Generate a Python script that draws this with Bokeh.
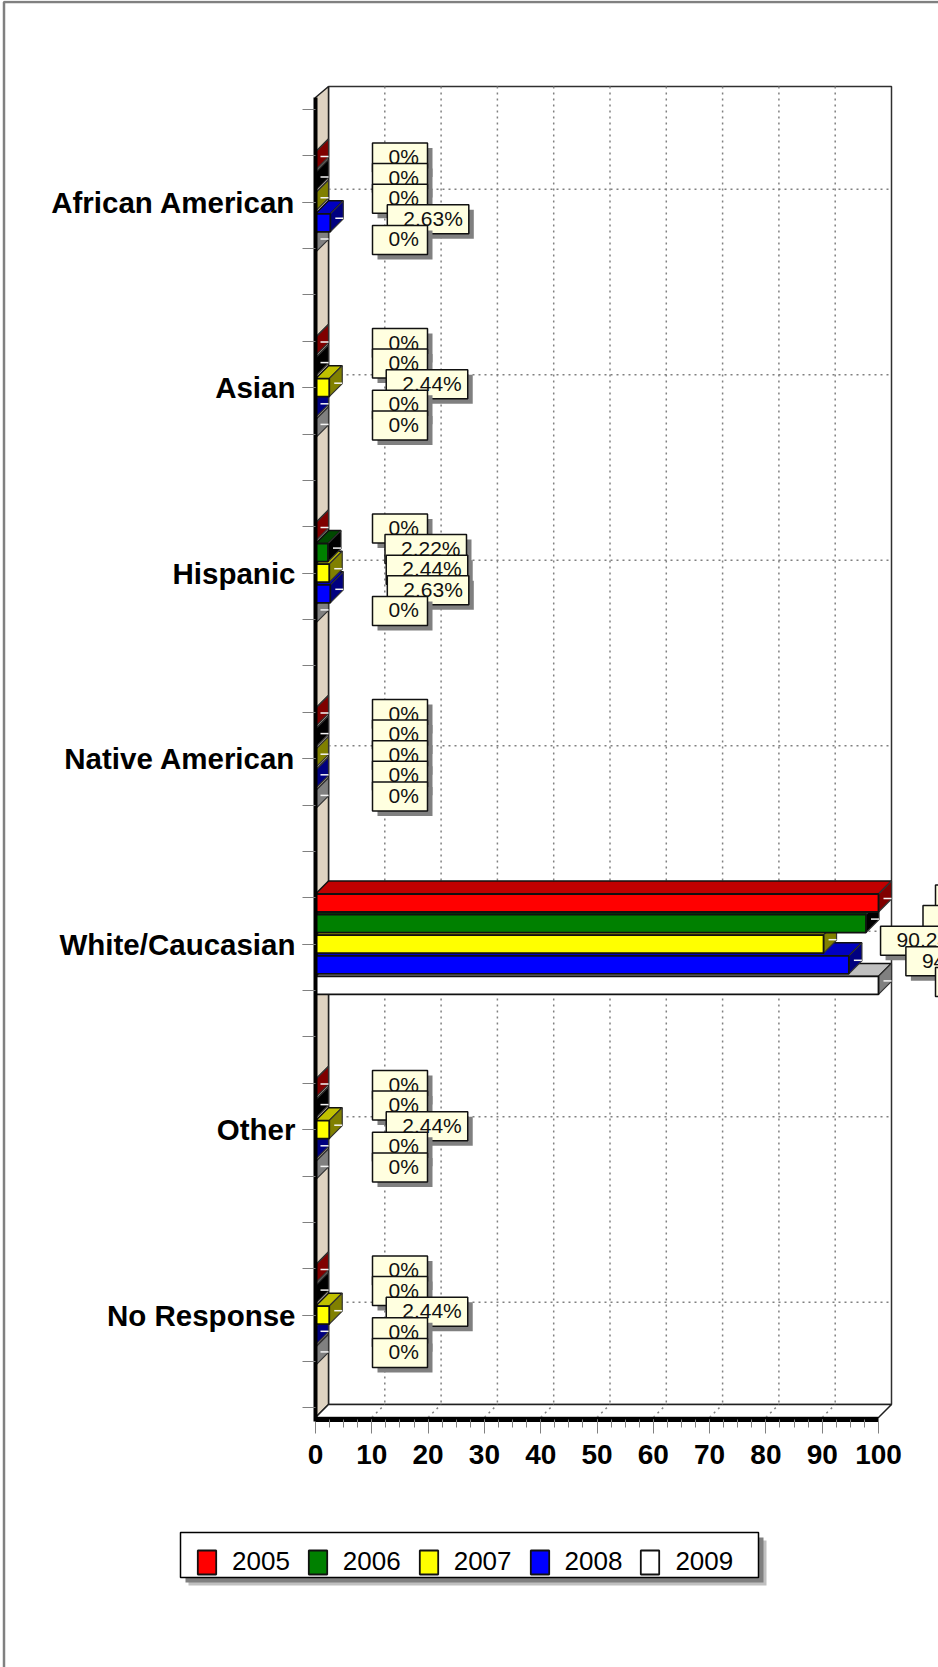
from bokeh.plotting import figure
from bokeh.models import Range1d, LinearAxis, FixedTicker, Legend, LegendItem
from bokeh.core.properties import value
from bokeh.embed import file_html
from bokeh.resources import INLINE

categories = ["African American", "Asian", "Hispanic", "Native American",
              "White/Caucasian", "Other", "No Response"]
years = ["2005", "2006", "2007", "2008", "2009"]
v2005 = [0, 0, 0, 0, 100, 0, 0]
v2006 = [0, 0, 2.22, 0, 97.78, 0, 0]
v2007 = [0, 2.44, 2.44, 0, 90.24, 2.44, 2.44]
v2008 = [2.63, 0, 2.63, 0, 94.74, 0, 0]
v2009 = [0, 0, 0, 0, 100, 0, 0]
series = [v2005, v2006, v2007, v2008, v2009]
front_cols = ["#FF0000", "#008000", "#FFFF00", "#0000FF", "#FFFFFF"]
top_cols = ["#C00000", "#004800", "#C0C000", "#0000C0", "#C0C0C0"]
side_cols = ["#800000", "#000000", "#808000", "#000080", "#808080"]

W, H = 938, 1667
X0, SX = 315.0, 5.63      # px of value 0, px per unit
Y0, SY = 201.7, 185.5     # px of first category, px per category
DEPTH = 13.0
BAR_STEP, BAR_H = 20.6, 18.0
FONT = "Liberation Sans"


def fx(px):
    return (px - X0) / SX


def fy(px):
    return (px - Y0) / SY


dxu, dyu = DEPTH / SX, DEPTH / SY

p = figure(width=W, height=H, output_backend="svg", toolbar_location=None,
           x_range=Range1d(fx(0), fx(W)), y_range=Range1d(fy(H), fy(0)),
           x_axis_type=None, y_axis_type=None, min_border=0,
           min_border_left=0, min_border_right=0, min_border_top=0, min_border_bottom=0,
           outline_line_color=None, background_fill_color="white",
           border_fill_color="white")
p.grid.visible = False

# chart frame
p.quad(left=[fx(3.5)], right=[fx(H)], top=[fy(1.5)], bottom=[fy(H + 20)],
       fill_color="white", line_color="#808080", line_width=2.5)

# walls
TOP_BACK, BOT_BACK, TOP_FRONT, BOT_FRONT = 86.0, 1404.0, 97.0, 1417.0
p.quad(left=[dxu], right=[100 + dxu], top=[fy(TOP_BACK)], bottom=[fy(BOT_BACK)],
       fill_color="white", line_color="#303030", line_width=1.5)
p.patches(xs=[[0, dxu, dxu, 0]],
          ys=[[fy(TOP_FRONT), fy(TOP_BACK), fy(BOT_BACK), fy(BOT_FRONT)]],
          fill_color="#DFD3C1", line_color="#202020", line_width=1.5)
p.patches(xs=[[0, dxu, 100 + dxu, 100]],
          ys=[[fy(BOT_FRONT), fy(BOT_BACK), fy(BOT_BACK), fy(BOT_FRONT)]],
          fill_color="white", line_color="#202020", line_width=1.5)

# grid
grid_x = list(range(10, 100, 10))
GRID = dict(line_color="#808080", line_width=1.5, line_dash="2 4")
p.multi_line(xs=[[g + dxu, g + dxu] for g in grid_x],
             ys=[[fy(TOP_BACK), fy(BOT_BACK)] for g in grid_x], **GRID)
p.multi_line(xs=[[g, g + dxu] for g in grid_x],
             ys=[[fy(BOT_FRONT), fy(BOT_BACK)] for g in grid_x], **GRID)
p.multi_line(xs=[[dxu, 100 + dxu] for c in categories],
             ys=[[i - dyu, i - dyu] for i in range(len(categories))], **GRID)

# bars: last series first, each earlier series covers the top of the next one
legend_items = [None] * len(series)
for j in reversed(range(len(series))):
    vals = series[j]
    centers = [i + (j - 2) * BAR_STEP / SY for i in range(len(vals))]
    h = BAR_H / 2 / SY
    p.patches(xs=[[0, dxu, v + dxu, v] for v in vals],
              ys=[[c - h, c - h - dyu, c - h - dyu, c - h] for c in centers],
              fill_color=top_cols[j], line_color="#111111", line_width=1.5)
    p.patches(xs=[[v, v + dxu, v + dxu, v] for v in vals],
              ys=[[c - h, c - h - dyu, c + h - dyu, c + h] for c in centers],
              fill_color=side_cols[j], line_color="#333333", line_width=1.2)
    front = p.quad(left=[0] * len(vals), right=vals,
                   top=[c - h for c in centers], bottom=[c + h for c in centers],
                   fill_color=front_cols[j], line_color="#111111", line_width=1.8)
    p.segment(x0=[v + 5 / SX for v in vals], x1=[v + dxu for v in vals],
              y0=[c - 4.5 / SY for c in centers], y1=[c - 4.5 / SY for c in centers],
              line_color="#F4F4F4", line_width=1.5)
    legend_items[j] = LegendItem(label=years[j], renderers=[front])

# value labels, series by series, each covering the one before
BOX_GAP, BOX_H, SHADOW, TEXT_PAD = 57.0, 29.0, 5.0, 16.0
for j, vals in enumerate(series):
    centers = [i + (j - 2) * BAR_STEP / SY for i in range(len(vals))]
    texts = [f"{v:g}%" for v in vals]
    lefts = [v + BOX_GAP / SX for v in vals]
    widths = [(55 + 10.5 * (sum(ch.isdigit() for ch in t) - 1) + 5.5 * t.count(".")) / SX
              for t in texts]
    tops = [c - 18 / SY for c in centers]
    bottoms = [t + BOX_H / SY for t in tops]
    p.quad(left=[l + SHADOW / SX for l in lefts],
           right=[l + w + SHADOW / SX for l, w in zip(lefts, widths)],
           top=[t + SHADOW / SY for t in tops], bottom=[b + SHADOW / SY for b in bottoms],
           fill_color="#808080", line_color=None)
    p.quad(left=lefts, right=[l + w for l, w in zip(lefts, widths)],
           top=tops, bottom=bottoms,
           fill_color="#FFFFE0", line_color="#111111", line_width=1.5)
    p.text(x=[l + TEXT_PAD / SX for l in lefts], y=[(t + b) / 2 - 1 / SY for t, b in zip(tops, bottoms)],
           text=texts, text_font=value(FONT), text_font_size="21px",
           text_color="#111111", text_align="left", text_baseline="middle")

# axes
xaxis = LinearAxis(fixed_location=fy(1419),
                   ticker=FixedTicker(ticks=list(range(0, 101, 10)),
                                      minor_ticks=[k * 2.5 for k in range(41)]),
                   bounds=(0, 100))
xaxis.axis_line_color = "black"
xaxis.axis_line_width = 5
xaxis.major_tick_line_color = "#808080"
xaxis.minor_tick_line_color = "#808080"
xaxis.major_tick_in = 0
xaxis.minor_tick_in = 0
xaxis.major_tick_out = 14
xaxis.minor_tick_out = 8
xaxis.major_label_standoff = 11
xaxis.major_label_text_font = FONT
xaxis.major_label_text_font_style = "bold"
xaxis.major_label_text_font_size = "28px"
xaxis.major_label_text_color = "black"
p.add_layout(xaxis, "below")

yaxis = LinearAxis(fixed_location=0,
                   ticker=FixedTicker(ticks=list(range(7)),
                                      minor_ticks=[k * 0.25 - 0.5 for k in range(29)]),
                   bounds=(fy(TOP_FRONT), fy(BOT_FRONT + 4)),
                   major_label_overrides={i: c for i, c in enumerate(categories)})
yaxis.axis_line_color = "black"
yaxis.axis_line_width = 4
yaxis.major_tick_line_color = "#808080"
yaxis.minor_tick_line_color = "#808080"
yaxis.major_tick_in = 0
yaxis.minor_tick_in = 0
yaxis.major_tick_out = 13
yaxis.minor_tick_out = 13
yaxis.major_label_standoff = 7
yaxis.major_label_text_font = FONT
yaxis.major_label_text_font_style = "bold"
yaxis.major_label_text_font_size = "29.5px"
yaxis.major_label_text_color = "black"
p.add_layout(yaxis, "left")

# legend box with double shadow
LEG_L, LEG_R, LEG_T, LEG_B = 180, 758, 1532, 1577
for off, col in ((8, "#C0C0C0"), (5, "#808080")):
    p.quad(left=[fx(LEG_L + off)], right=[fx(LEG_R + off)], top=[fy(LEG_T + off)], bottom=[fy(LEG_B + off)],
           fill_color=col, line_color=None)
p.quad(left=[fx(LEG_L)], right=[fx(LEG_R)], top=[fy(LEG_T)], bottom=[fy(LEG_B)],
       fill_color="white", line_color="black", line_width=1.5)
legend = Legend(items=legend_items, orientation="horizontal", location=(LEG_L + 15, H - LEG_B),
                glyph_width=23, glyph_height=30, label_standoff=14, spacing=16,
                padding=8, margin=0, border_line_color=None,
                background_fill_alpha=0,
                label_text_font=FONT, label_text_font_size="26px", label_text_color="black",
                label_height=26)
p.add_layout(legend, "center")

open("out.html", "w").write(file_html(p, INLINE))
